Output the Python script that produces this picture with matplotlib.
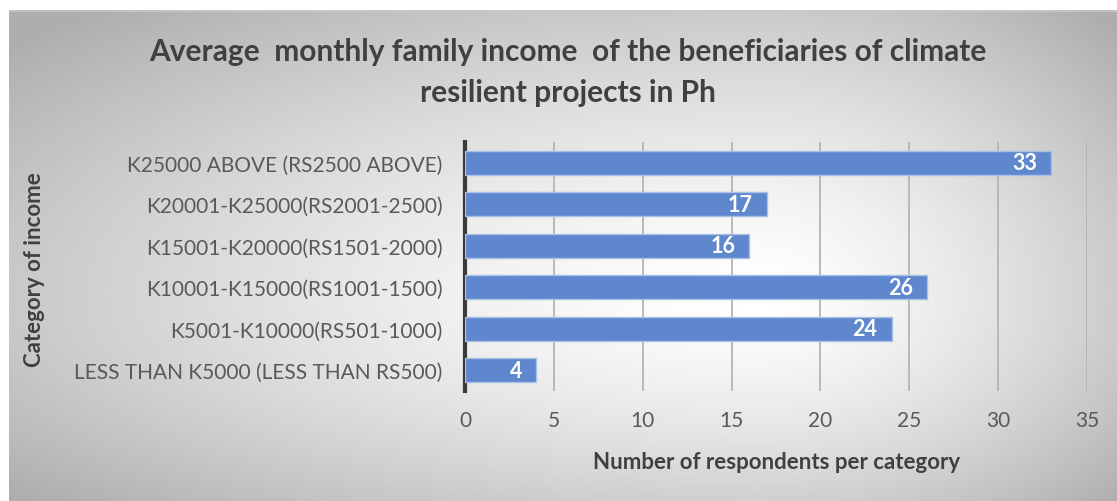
import numpy as np
import matplotlib.pyplot as plt

categories = ["LESS THAN K5000 (LESS THAN RS500)",
              "K5001-K10000(RS501-1000)",
              "K10001-K15000(RS1001-1500)",
              "K15001-K20000(RS1501-2000)",
              "K20001-K25000(RS2001-2500)",
              "K25000 ABOVE (RS2500 ABOVE)"]
counts = [4, 24, 26, 16, 17, 33]
xticks = [0, 5, 10, 15, 20, 25, 30, 35]

plt.rcParams['font.family'] = ['Lato', 'DejaVu Sans']

W, H = 1117, 502
fig = plt.figure(figsize=(W / 100, H / 100), dpi=100)

# background panel with radial gradient
bg = fig.add_axes([9 / W, 0, 1 - 9 / W, 1 - 11 / H])
bg.set_axis_off()
xs = np.linspace(9, W, 400)
ys = np.linspace(11, H, 200)
X, Y = np.meshgrid(xs, ys)
cx, cy = 760, 300
dx = np.where(X < cx, (X - cx) / 760, (X - cx) / 380)
dy = np.where(Y < cy, (Y - cy) / 300, (Y - cy) / 230)
r = np.clip(np.sqrt(dx ** 2 + dy ** 2), 0, 1.3)
val = 1 - 0.22 * r ** 1.4
bg.imshow(val, cmap='gray', vmin=0, vmax=1, aspect='auto', extent=[0, 1, 0, 1], origin='upper')
bg.set_xlim(0, 1)
bg.set_ylim(0, 1)
bg.plot([0, 1], [0.998, 0.998], color='#c8c8c8', lw=1.2)

ax = fig.add_axes([465 / W, 1 - 392 / H, (1087 - 465) / W, (392 - 143) / H])
ax.patch.set_alpha(0)
ypos = np.arange(len(categories))
ax.barh(ypos, counts, height=0.58, color='#5f87cd', edgecolor='#a9c0e6', linewidth=1.0, zorder=3)
for y, v in zip(ypos, counts):
    ax.text(v - 0.8, y, str(v), ha='right', va='center', color='white',
            fontsize=15.5, fontweight='bold', zorder=4)

ax.set_xlim(0, 35)
ax.set_ylim(-0.5, 5.5)
ax.set_xticks(xticks)
ax.set_yticks(ypos)
ax.set_yticklabels(categories)
ax.grid(axis='x', color='#b4b4b4', lw=1.3, zorder=0)
for s in ['top', 'right', 'bottom']:
    ax.spines[s].set_visible(False)
ax.spines['left'].set_color('#3a3a3a')
ax.spines['left'].set_linewidth(3)
ax.tick_params(axis='both', length=0, labelsize=15, colors='#595959')
ax.tick_params(axis='y', pad=16)
ax.tick_params(axis='x', pad=14)

fig.text(777 / W, 1 - 463 / H, "Number of respondents per category", ha='center', va='center',
         fontsize=16, fontweight='bold', color='#404040')
fig.text(35 / W, 1 - 270 / H, "Category of income", ha='center', va='center', rotation=90,
         fontsize=16, fontweight='bold', color='#404040')
fig.text(568 / W, 1 - 52 / H, "Average  monthly family income  of the beneficiaries of climate",
         ha='center', va='center', fontsize=21.5, fontweight='bold', color='#404040')
fig.text(568 / W, 1 - 93 / H, "resilient projects in Ph",
         ha='center', va='center', fontsize=21.5, fontweight='bold', color='#404040')

fig.savefig('out.png', dpi=100)
